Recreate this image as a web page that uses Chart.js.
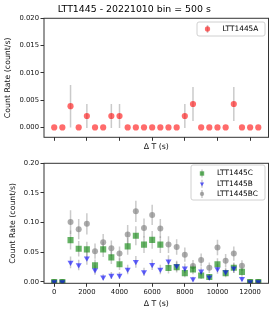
<!DOCTYPE html>
<html>
<head>
<meta charset="utf-8">
<script src="https://cdn.jsdelivr.net/npm/chart.js@4.4.0/dist/chart.umd.min.js"></script>
<style>
  html, body { margin: 0; padding: 0; background: #fff; }
  #wrap { position: relative; width: 274px; height: 314px; }
  #topChart { position: absolute; left: 0; top: 0; }
  #bottomChart { position: absolute; left: 0; top: 152px; }
</style>
</head>
<body>
<div id="wrap">
  <canvas id="topChart" width="274" height="152"></canvas>
  <canvas id="bottomChart" width="274" height="162"></canvas>
</div>
<script>
// time bins (s), bin = 500 s
const times = [0, 500, 1000, 1500, 2000, 2500, 3000, 3500, 4000, 4500, 5000, 5500, 6000,
               6500, 7000, 7500, 8000, 8500, 9000, 9500, 10000, 10500, 11000, 11500, 12000, 12500];

// LTT1445A
const rateA = [0, 0, 0.0039, 0, 0.0021, 0, 0, 0.0021, 0.0021, 0, 0, 0, 0,
               0, 0, 0, 0.0021, 0.0043, 0, 0, 0, 0, 0.0043, 0, 0, 0];
const errA  = [0, 0, 0.0039, 0, 0.0022, 0, 0, 0.0022, 0.0022, 0, 0, 0, 0,
               0, 0, 0, 0.0022, 0.0031, 0, 0, 0, 0, 0.0031, 0, 0, 0];

// LTT1445C
const rateC = [0, 0, 0.0706, 0.056, 0.055, 0.028, 0.055, 0.0415, 0.030, 0.060, 0.078, 0.063, 0.071,
               0.063, 0.0235, 0.025, 0.015, 0.021, 0.011, 0.0084, 0.030, 0.015, 0.024, 0.017, 0, 0];
const errC  = [0, 0, 0.016, 0.013, 0.013, 0.010, 0.013, 0.011, 0.010, 0.014, 0.016, 0.014, 0.015,
               0.014, 0.009, 0.009, 0.007, 0.008, 0.006, 0.005, 0.010, 0.007, 0.009, 0.007, 0, 0];

// LTT1445B
const rateB = [0, 0, 0.033, 0.0286, 0.040, 0.020, 0.008, 0.011, 0.011, 0.021, 0.034, 0.017, 0.029,
               0.021, 0.035, 0.027, 0.023, 0.005, 0.018, 0.008, 0.022, 0.017, 0.023, 0.0056, 0, 0];
const errB  = [0, 0, 0.010, 0.009, 0.011, 0.008, 0.005, 0.006, 0.006, 0.008, 0.010, 0.007, 0.009,
               0.008, 0.010, 0.009, 0.008, 0.004, 0.007, 0.005, 0.008, 0.007, 0.008, 0.004, 0, 0];

// LTT1445BC
const rateBC = [0, 0, 0.101, 0.089, 0.098, 0.052, 0.067, 0.057, 0.048, 0.080, 0.119, 0.091, 0.113,
                0.090, 0.063, 0.059, 0.046, 0.027, 0.037, 0.024, 0.058, 0.036, 0.048, 0.0275, 0, 0];
const errBC  = [0, 0, 0.020, 0.017, 0.018, 0.013, 0.014, 0.013, 0.012, 0.016, 0.018, 0.016, 0.017,
                0.016, 0.014, 0.013, 0.012, 0.010, 0.011, 0.009, 0.013, 0.011, 0.012, 0.009, 0, 0];

const xTicks = [0, 2000, 4000, 6000, 8000, 10000, 12000];
const yTicksTop = [0, 0.005, 0.010, 0.015, 0.020];
const yTicksBottom = [0, 0.05, 0.10, 0.15, 0.20];

Chart.defaults.font.family = "'DejaVu Sans', sans-serif";
Chart.defaults.color = '#000';

function pts(ys) {
  return times.map((t, i) => ({ x: t, y: ys[i] }));
}

// vertical error bars, drawn under the markers
const errorBars = {
  id: 'errorBars',
  beforeDatasetsDraw(chart) {
    const ctx = chart.ctx, xs = chart.scales.x, ys = chart.scales.y, a = chart.chartArea;
    ctx.save();
    ctx.beginPath();
    ctx.rect(a.left, a.top, a.width, a.height);
    ctx.clip();
    ctx.strokeStyle = 'rgba(128,128,128,0.42)';
    ctx.lineWidth = 1.5;
    chart.data.datasets.forEach(ds => {
      if (!ds.errors) return;
      ds.data.forEach((p, i) => {
        const e = ds.errors[i];
        if (!e) return;
        const x = xs.getPixelForValue(p.x);
        ctx.beginPath();
        ctx.moveTo(x, ys.getPixelForValue(p.y - e));
        ctx.lineTo(x, ys.getPixelForValue(p.y + e));
        ctx.stroke();
      });
    });
    ctx.restore();
  }
};

// axes box + legend in the upper right corner
const frameLegend = {
  id: 'frameLegend',
  afterDatasetsDraw(chart, args, opts) {
    const ctx = chart.ctx, a = chart.chartArea;
    ctx.save();
    ctx.strokeStyle = '#333';
    ctx.lineWidth = 1;
    ctx.strokeRect(a.left, a.top, a.width, a.height);

    const box = opts.box;
    ctx.fillStyle = 'rgba(255,255,255,0.85)';
    ctx.strokeStyle = '#d0d0d0';
    ctx.lineWidth = 1;
    ctx.beginPath();
    ctx.roundRect(box.x, box.y, box.w, box.h, 2);
    ctx.fill();
    ctx.stroke();

    const list = chart.data.datasets.slice().sort((p, q) => p.legendIndex - q.legendIndex);
    ctx.font = "7.4px 'DejaVu Sans'";
    ctx.textBaseline = 'middle';
    list.forEach((ds, i) => {
      const y = box.y + opts.firstRow + i * opts.rowGap;
      const mx = box.x + opts.markerX;
      ctx.strokeStyle = 'rgba(128,128,128,0.42)';
      ctx.lineWidth = 1.5;
      ctx.beginPath();
      ctx.moveTo(mx, y - 4);
      ctx.lineTo(mx, y + 4);
      ctx.stroke();
      ctx.fillStyle = ds.backgroundColor;
      Chart.helpers.drawPoint(ctx, {
        pointStyle: ds.pointStyle,
        radius: ds.pointRadius * opts.markerScale,
        rotation: ds.pointRotation || 0,
        borderWidth: 0
      }, mx, y);
      ctx.fillStyle = '#000';
      ctx.fillText(ds.label, box.x + opts.textX, y);
    });
    ctx.restore();
  }
};

function xScale(showLabels, height, titlePad) {
  return {
    type: 'linear',
    min: -625,
    max: 13125,
    afterBuildTicks: s => { s.ticks = xTicks.map(v => ({ value: v })); },
    afterFit: s => { s.height = height; },
    grid: { drawOnChartArea: false, drawTicks: true, tickLength: 3.5, color: '#333' },
    border: { display: false },
    ticks: {
      display: showLabels, autoSkip: false, maxRotation: 0, padding: 1.5,
      font: { size: 6.8 }, color: '#111',
      callback: v => String(v)
    },
    title: { display: true, text: 'Δ T (s)', font: { size: 7.8 }, color: '#111', padding: { top: 0, bottom: titlePad } }
  };
}

function yScale(min, max, ticks, digits, titlePad) {
  return {
    type: 'linear',
    min: min,
    max: max,
    afterBuildTicks: s => { s.ticks = ticks.map(v => ({ value: v })); },
    afterFit: s => { s.width = 44; },
    grid: { drawOnChartArea: false, drawTicks: true, tickLength: 3.5, color: '#333' },
    border: { display: false },
    ticks: { padding: 1.5, font: { size: 6.8 }, color: '#111', callback: v => v.toFixed(digits) },
    title: { display: true, text: 'Count Rate (count/s)', font: { size: 7.8 }, color: '#111', padding: { top: titlePad, bottom: 0 } }
  };
}

new Chart(document.getElementById('topChart'), {
  type: 'scatter',
  data: {
    datasets: [{
      label: 'LTT1445A',
      data: pts(rateA),
      errors: errA,
      legendIndex: 0,
      pointStyle: 'circle',
      pointRadius: 3.1,
      backgroundColor: 'rgba(255,0,0,0.58)',
      borderWidth: 0
    }]
  },
  options: {
    responsive: false,
    animation: false,
    events: [],
    layout: { padding: { left: 0, right: 5.5, top: 0, bottom: 0 } },
    scales: {
      x: xScale(false, 14.7, 0),
      y: yScale(-0.0018, 0.020, yTicksTop, 3, 3.2)
    },
    plugins: {
      legend: { display: false },
      tooltip: { enabled: false },
      title: {
        display: true,
        text: 'LTT1445 - 20221010 bin = 500 s',
        font: { size: 9.4, weight: 'normal' },
        color: '#000',
        padding: { top: 4, bottom: 3 }
      },
      frameLegend: {
        box: { x: 197, y: 22, w: 68, h: 14 },
        firstRow: 7, rowGap: 0, markerX: 10.5, textX: 25.5, markerScale: 0.85
      }
    }
  },
  plugins: [errorBars, frameLegend]
});

new Chart(document.getElementById('bottomChart'), {
  type: 'scatter',
  data: {
    datasets: [{
      label: 'LTT1445B',
      data: pts(rateB),
      errors: errB,
      legendIndex: 1,
      order: 0,
      pointStyle: 'triangle',
      pointRotation: 180,
      pointRadius: 3.5,
      backgroundColor: 'rgba(0,0,255,0.6)',
      borderWidth: 0
    }, {
      label: 'LTT1445C',
      data: pts(rateC),
      errors: errC,
      legendIndex: 0,
      order: 1,
      pointStyle: 'rect',
      pointRadius: 4.3,
      backgroundColor: 'rgba(0,128,0,0.6)',
      borderWidth: 0
    }, {
      label: 'LTT1445BC',
      data: pts(rateBC),
      errors: errBC,
      legendIndex: 2,
      order: 2,
      pointStyle: 'circle',
      pointRadius: 3.0,
      backgroundColor: 'rgba(128,128,128,0.65)',
      borderWidth: 0
    }]
  },
  options: {
    responsive: false,
    animation: false,
    events: [],
    layout: { padding: { left: 0, right: 5.5, top: 11.3, bottom: 0 } },
    scales: {
      x: xScale(true, 30.7, 5.2),
      y: yScale(-0.0022, 0.20, yTicksBottom, 2, 8)
    },
    plugins: {
      legend: { display: false },
      tooltip: { enabled: false },
      title: { display: false },
      frameLegend: {
        box: { x: 191, y: 13, w: 74, h: 35 },
        firstRow: 8.5, rowGap: 10.2, markerX: 11, textX: 26, markerScale: 0.72
      }
    }
  },
  plugins: [errorBars, frameLegend]
});
</script>
</body>
</html>
